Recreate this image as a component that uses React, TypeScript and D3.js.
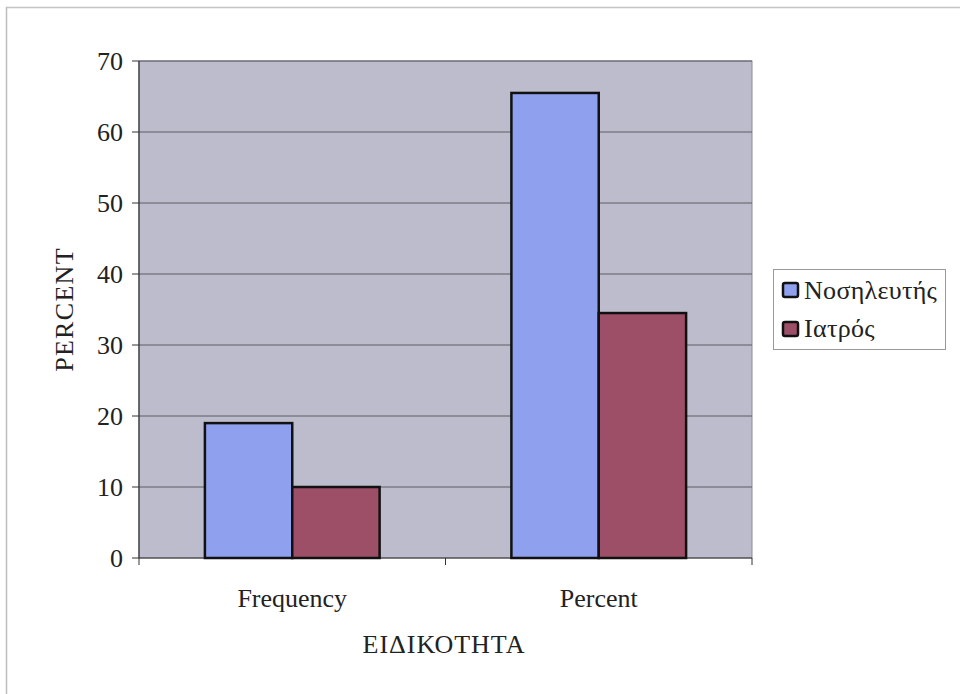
import React from "react";
import * as d3 from "d3";

const categories = ["Frequency", "Percent"];
const seriesNames = ["Νοσηλευτής", "Ιατρός"];
const nurseValues = [19, 65.5];
const doctorValues = [10, 34.5];
const yTicks = [0, 10, 20, 30, 40, 50, 60, 70];

const colors = ["#8fa0ee", "#9e4f68"];
const W = 960;
const H = 694;
const margin = { left: 139, right: 208, top: 61, bottom: 136 };
const font = '"Liberation Serif", "Times New Roman", "DejaVu Serif", serif';

export default function App() {
  const x0 = d3
    .scaleBand<string>()
    .domain(categories)
    .range([margin.left, W - margin.right])
    .paddingInner(0.43)
    .paddingOuter(0.215);
  const x1 = d3.scaleBand<string>().domain(seriesNames).range([0, x0.bandwidth()]);
  const y = d3.scaleLinear().domain([0, 70]).range([H - margin.bottom, margin.top]);
  const plotL = margin.left;
  const plotR = W - margin.right;
  const series = [nurseValues, doctorValues];
  const catStep = (plotR - plotL) / categories.length;
  const fs = 26;

  return (
    <svg
      width={W}
      height={H}
      style={{ position: "absolute", left: 0, top: 0, background: "#fff", fontFamily: font }}
    >
      <line x1={6} x2={W} y1={7.5} y2={7.5} stroke="#c4c4c4" strokeWidth={1.5} />
      <line x1={6.5} x2={6.5} y1={7} y2={H} stroke="#bdbdbd" strokeWidth={1.5} />
      <rect
        x={plotL}
        y={y(70)}
        width={plotR - plotL}
        height={y(0) - y(70)}
        fill="#bdbccc"
        stroke="#8a8a98"
        strokeWidth={1}
      />
      {yTicks.map((t) => (
        <g key={t}>
          {t > 0 && (
            <line x1={plotL} x2={plotR} y1={y(t)} y2={y(t)} stroke="#5c5c66" strokeWidth={1} />
          )}
          <line x1={plotL - 7} x2={plotL} y1={y(t)} y2={y(t)} stroke="#333" strokeWidth={1} />
          <text
            x={plotL - 16}
            y={y(t)}
            dy="0.35em"
            textAnchor="end"
            fontSize={fs}
            fill="#222"
          >
            {t}
          </text>
        </g>
      ))}
      <line x1={plotL} x2={plotL} y1={y(70)} y2={y(0)} stroke="#333" strokeWidth={1.2} />
      <line x1={plotL} x2={plotR} y1={y(0)} y2={y(0)} stroke="#333" strokeWidth={1.2} />
      {[0, 1, 2].map((i) => (
        <line
          key={i}
          x1={plotL + i * catStep}
          x2={plotL + i * catStep}
          y1={y(0)}
          y2={y(0) + 7}
          stroke="#333"
          strokeWidth={1}
        />
      ))}
      {categories.map((c, ci) => (
        <g key={c}>
          {seriesNames.map((s, si) => {
            const v = series[si][ci];
            return (
              <rect
                key={s}
                x={(x0(c) as number) + (x1(s) as number)}
                y={y(v)}
                width={x1.bandwidth()}
                height={y(0) - y(v)}
                fill={colors[si]}
                stroke="#111"
                strokeWidth={2.5}
              />
            );
          })}
          <text
            x={plotL + (ci + 0.5) * catStep}
            y={607}
            textAnchor="middle"
            fontSize={fs}
            fill="#222"
          >
            {c}
          </text>
        </g>
      ))}
      <text
        transform={`translate(73,${(y(0) + y(70)) / 2}) rotate(-90)`}
        textAnchor="middle"
        fontSize={fs}
        letterSpacing={1.3}
        fill="#222"
      >
        PERCENT
      </text>
      <text x={444} y={653} textAnchor="middle" fontSize={fs} letterSpacing={1} fill="#222">
        ΕΙΔΙΚΟΤΗΤΑ
      </text>
      <rect x={773.5} y={269.5} width={172} height={80} fill="#fff" stroke="#999" strokeWidth={1} />
      {seriesNames.map((s, i) => (
        <g key={s}>
          <rect
            x={783}
            y={283 + i * 39}
            width={15}
            height={14}
            rx={2}
            fill={colors[i]}
            stroke="#111"
            strokeWidth={2.5}
          />
          <text x={804} y={299 + i * 38} fontSize={fs} letterSpacing={0.3} fill="#222">
            {s}
          </text>
        </g>
      ))}
    </svg>
  );
}
